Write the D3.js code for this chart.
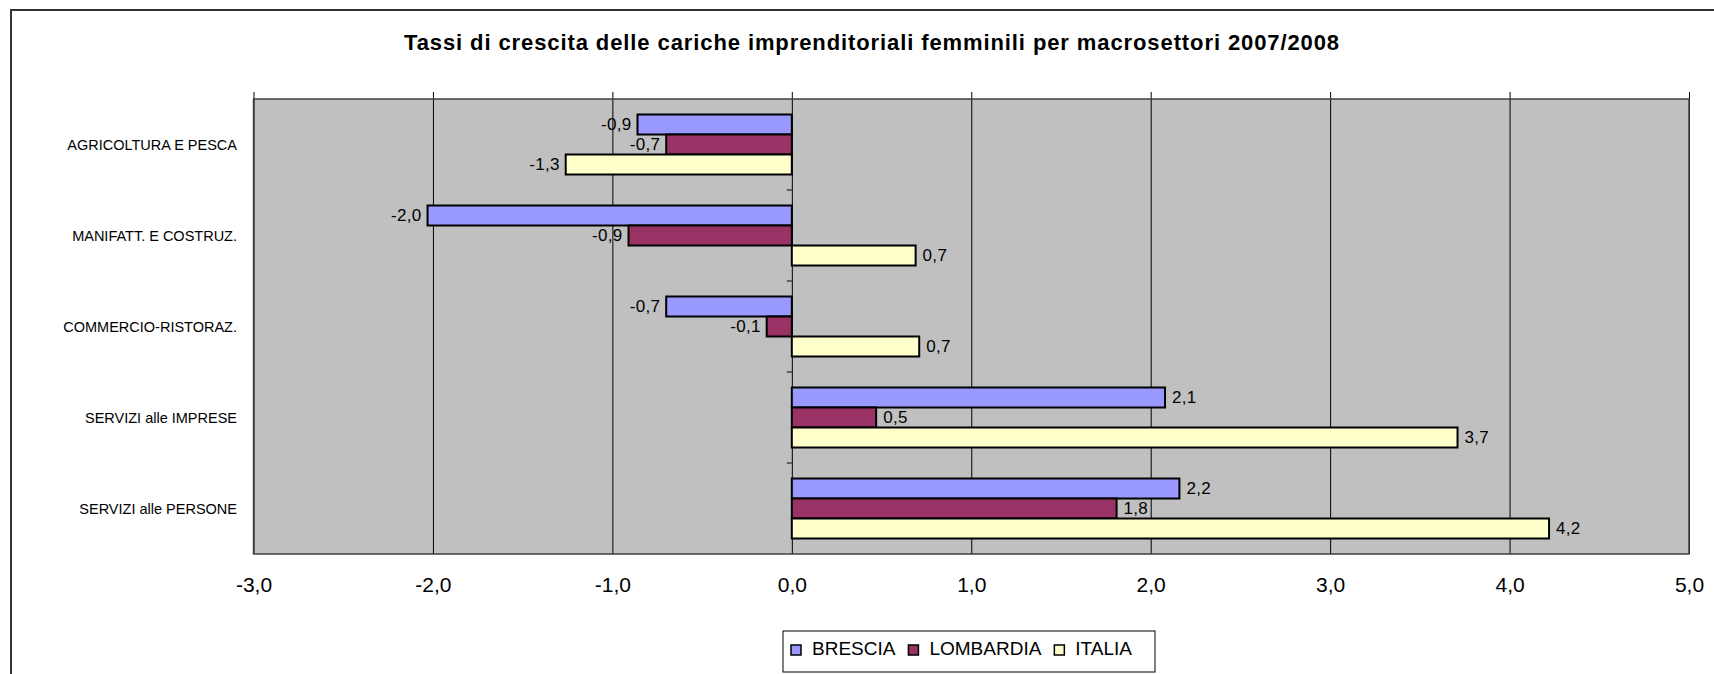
<!DOCTYPE html>
<html>
<head>
<meta charset="utf-8">
<script src="https://cdn.jsdelivr.net/npm/d3@7"></script>
<style>
  body { margin: 0; background: #fff; }
  svg { display: block; font-family: "Liberation Sans", Arial, sans-serif; }
</style>
</head>
<body>
<svg width="1714" height="674"></svg>
<script>
// categories (top to bottom) and series values
var categories = ["AGRICOLTURA E PESCA", "MANIFATT. E COSTRUZ.", "COMMERCIO-RISTORAZ.", "SERVIZI alle IMPRESE", "SERVIZI alle PERSONE"];
var seriesNames = ["BRESCIA", "LOMBARDIA", "ITALIA"];
var brescia = [-0.86, -2.03, -0.70, 2.08, 2.16];
var lombardia = [-0.70, -0.91, -0.14, 0.47, 1.81];
var italia = [-1.26, 0.69, 0.71, 3.71, 4.22];
var xTicks = [-3, -2, -1, 0, 1, 2, 3, 4, 5];
var seriesColors = ["#9999FF", "#993366", "#FFFFCC"];
var title = "Tassi di crescita delle cariche imprenditoriali femminili per macrosettori 2007/2008";

var seriesValues = [brescia, lombardia, italia];

var svg = d3.select("svg");

// italian number format: comma decimal, plain hyphen minus
var it = d3.formatLocale({decimal: ",", thousands: ".", grouping: [3], currency: ["", " €"], minus: "-"});
var fmt = it.format(".1f");

var plot = {left: 253.5, right: 1689, top: 99, bottom: 554};

var x = d3.scaleLinear()
  .domain([xTicks[0], xTicks[xTicks.length - 1]])
  .range([plot.left, plot.right]);

var y = d3.scaleBand()
  .domain(categories)
  .range([plot.top, plot.bottom]);

var ySub = d3.scaleBand()
  .domain(seriesNames)
  .range([0, y.bandwidth()])
  .paddingOuter(0.775);

var color = d3.scaleOrdinal().domain(seriesNames).range(seriesColors);

// outer chart frame (runs off the right and bottom edges)
svg.append("rect")
  .attr("x", 11).attr("y", 10)
  .attr("width", 1760).attr("height", 720)
  .attr("fill", "none")
  .attr("stroke", "#333")
  .attr("stroke-width", 2);

// title
svg.append("text")
  .attr("x", 872).attr("y", 50)
  .attr("text-anchor", "middle")
  .attr("font-size", 22)
  .attr("letter-spacing", 0.9)
  .attr("font-weight", "bold")
  .text(title);

// plot area background
svg.append("rect")
  .attr("x", plot.left).attr("y", plot.top)
  .attr("width", plot.right - plot.left)
  .attr("height", plot.bottom - plot.top)
  .attr("fill", "#C0C0C0");

// vertical gridlines, sticking out a little above the plot
var grid = svg.append("g")
  .attr("transform", "translate(0," + (plot.top - 7) + ")")
  .call(d3.axisTop(x).tickValues(xTicks).tickSize(-(plot.bottom - plot.top + 7)).tickFormat(""));
grid.select(".domain").remove();
grid.selectAll("line").attr("stroke", "#000").attr("stroke-width", 1);

// bars
var rows = categories.map(function(c, i) {
  return {
    category: c,
    values: seriesNames.map(function(s, j) {
      return {series: s, value: seriesValues[j][i]};
    })
  };
});

var group = svg.selectAll(".cat")
  .data(rows)
  .enter().append("g")
  .attr("class", "cat")
  .attr("transform", function(d) {
    return "translate(0," + y(d.category) + ")";
  });

group.selectAll("rect")
  .data(function(d) { return d.values; })
  .enter().append("rect")
  .attr("x", function(d) { return x(Math.min(0, d.value)); })
  .attr("y", function(d) { return ySub(d.series); })
  .attr("width", function(d) { return Math.abs(x(d.value) - x(0)); })
  .attr("height", ySub.bandwidth())
  .attr("fill", function(d) { return color(d.series); })
  .attr("stroke", "#000")
  .attr("stroke-width", 2);

group.selectAll("text")
  .data(function(d) { return d.values; })
  .enter().append("text")
  .attr("x", function(d) { return d.value < 0 ? x(d.value) - 6 : x(d.value) + 7; })
  .attr("y", function(d) { return ySub(d.series) + ySub.bandwidth() / 2; })
  .attr("dy", "0.35em")
  .attr("text-anchor", function(d) { return d.value < 0 ? "end" : "start"; })
  .attr("font-size", 17)
  .attr("letter-spacing", 0.3)
  .text(function(d) { return fmt(d.value); });

// plot area border
svg.append("rect")
  .attr("x", plot.left).attr("y", plot.top)
  .attr("width", plot.right - plot.left)
  .attr("height", plot.bottom - plot.top)
  .attr("fill", "none")
  .attr("stroke", "#404040")
  .attr("stroke-width", 1.5);

// category axis at zero: small ticks between groups, labels on the left
var catTicks = categories.slice(1).map(function(c) { return y(c); });
svg.selectAll(".cattick")
  .data(catTicks)
  .enter().append("line")
  .attr("x1", x(0) - 5).attr("x2", x(0))
  .attr("y1", function(d) { return d; })
  .attr("y2", function(d) { return d; })
  .attr("stroke", "#000");

svg.selectAll(".catlabel")
  .data(categories)
  .enter().append("text")
  .attr("x", 237)
  .attr("y", function(d) { return y(d) + y.bandwidth() / 2; })
  .attr("dy", "0.35em")
  .attr("text-anchor", "end")
  .attr("font-size", 14.5)
  .text(function(d) { return d; });

// value axis labels at the bottom
var xAxis = svg.append("g")
  .attr("transform", "translate(0," + plot.bottom + ")")
  .call(d3.axisBottom(x).tickValues(xTicks).tickSize(0).tickPadding(23).tickFormat(fmt));
xAxis.select(".domain").remove();
xAxis.selectAll("text")
  .attr("font-size", 21)
  .attr("font-family", "Liberation Sans, Arial, sans-serif")
  .attr("fill", "#000");

// legend
var legend = svg.append("g");
legend.append("rect")
  .attr("x", 783).attr("y", 631)
  .attr("width", 372).attr("height", 41)
  .attr("fill", "#fff")
  .attr("stroke", "#000")
  .attr("stroke-width", 1);

var lx = 791;
seriesNames.forEach(function(s) {
  legend.append("rect")
    .attr("x", lx).attr("y", 645)
    .attr("width", 10).attr("height", 10)
    .attr("fill", color(s))
    .attr("stroke", "#000")
    .attr("stroke-width", 1.5);
  var t = legend.append("text")
    .attr("x", lx + 21).attr("y", 655)
    .attr("font-size", 19)
    .text(s);
  lx += 21 + t.node().getComputedTextLength() + 13;
});
</script>
</body>
</html>
